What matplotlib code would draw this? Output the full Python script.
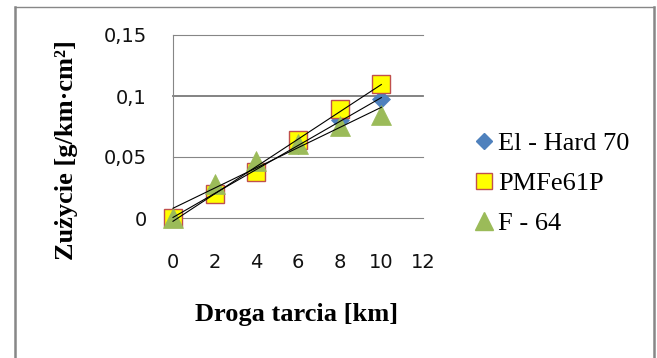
import numpy as np
import matplotlib
matplotlib.use("Agg")
import matplotlib.pyplot as plt
from matplotlib.lines import Line2D

# Data
distance_km = [0, 2, 4, 6, 8, 10]
el_hard_70 = [0.0, 0.020, 0.040, 0.060, 0.080, 0.0975]
pmfe61p = [0.0, 0.0198, 0.0375, 0.0636, 0.0893, 0.110]
f_64 = [0.0, 0.028, 0.047, 0.061, 0.0756, 0.0845]
series_names = ["El - Hard 70", "PMFe61P", "F - 64"]
x_ticks = [0, 2, 4, 6, 8, 10, 12]
y_ticks = [0, 0.05, 0.1, 0.15]
y_tick_labels = ["0", "0,05", "0,1", "0,15"]

W, H = 657, 358
fig = plt.figure(figsize=(W / 100, H / 100), dpi=100)
fig.patch.set_facecolor("white")

ax = fig.add_axes([173 / W, 1 - 218 / H, 250 / W, 183 / H])
ax.set_xlim(0, 12)
ax.set_ylim(0, 0.15)

grid_c = "#868686"
for yv in y_ticks:
    ax.axhline(yv, color=grid_c if yv != 0.1 else "#7a7a7a",
               lw=1.3 if yv == 0.1 else 0.8, zorder=0.5, clip_on=False)
for s in ["top", "right", "bottom"]:
    ax.spines[s].set_visible(False)
ax.spines["left"].set_color(grid_c)
ax.spines["left"].set_linewidth(0.8)

ax.set_xticks(x_ticks)
ax.set_xticklabels([str(v) for v in x_ticks])
ax.set_yticks(y_ticks)
ax.set_yticklabels(y_tick_labels)
ax.tick_params(axis="both", length=0, labelsize=14, colors="#111111")
ax.tick_params(axis="x", pad=25)
ax.tick_params(axis="y", pad=19)
for lab in ax.get_xticklabels() + ax.get_yticklabels():
    lab.set_fontfamily("DejaVu Sans")

xs = np.array(distance_km, dtype=float)
datasets = [el_hard_70, pmfe61p, f_64]
styles = [
    dict(marker="D", markersize=9.5, markerfacecolor="#4F81BD", markeredgecolor="#4F81BD", markeredgewidth=0.5),
    dict(marker="s", markersize=13.5, markerfacecolor="#FFFF00", markeredgecolor="#C0504D", markeredgewidth=1.0),
    dict(marker="^", markersize=14, markerfacecolor="#9BBB59", markeredgecolor="#9BBB59", markeredgewidth=0.5),
]
handles = []
for i, (ys, st, name) in enumerate(zip(datasets, styles, series_names)):
    h, = ax.plot(xs, ys, linestyle="none", label=name, zorder=2 + i, clip_on=False, **st)
    handles.append(h)

# linear trendlines
for ys in datasets:
    k, b = np.polyfit(xs, np.array(ys), 1)
    ax.plot([xs[0], xs[-1]], [b + k * xs[0], b + k * xs[-1]], color="black", lw=0.8, zorder=6, clip_on=False)

leg = fig.legend(handles=[
    Line2D([], [], linestyle="none", marker="D", markersize=8.5, markerfacecolor="#4F81BD", markeredgecolor="#4F81BD"),
    Line2D([], [], linestyle="none", marker="s", markersize=12, markerfacecolor="#FFFF00", markeredgecolor="#C0504D", markeredgewidth=1.0),
    Line2D([], [], linestyle="none", marker="^", markersize=13, markerfacecolor="#9BBB59", markeredgecolor="#9BBB59"),
], labels=series_names, loc="center left", bbox_to_anchor=(473 / W, 1 - 183.5 / H),
    frameon=False, borderpad=0, borderaxespad=0, handlelength=0.8, handletextpad=0.15,
    labelspacing=0.62, prop=dict(family="Liberation Serif", size=19))

fig.text(67 / W, 1 - 150 / H, "Zużycie [g/km·cm²]", rotation=90, ha="center", va="center",
         fontfamily="Liberation Serif", fontweight="bold", fontsize=19)
fig.text(297 / W, 1 - 314 / H, "Droga tarcia [km]", ha="center", va="center",
         fontfamily="Liberation Serif", fontweight="bold", fontsize=19)

# outer chart frame
frame_c = "#878787"
fig.add_artist(Line2D([15 / W, 15 / W], [0, 1 - 7 / H], color=frame_c, lw=1.8, transform=fig.transFigure))
fig.add_artist(Line2D([15 / W, 654 / W], [1 - 7 / H, 1 - 7 / H], color=frame_c, lw=1.0, transform=fig.transFigure))
fig.add_artist(Line2D([654 / W, 654 / W], [0, 1 - 7 / H], color=frame_c, lw=1.8, transform=fig.transFigure))

fig.savefig("out.png", dpi=100, facecolor="white")
